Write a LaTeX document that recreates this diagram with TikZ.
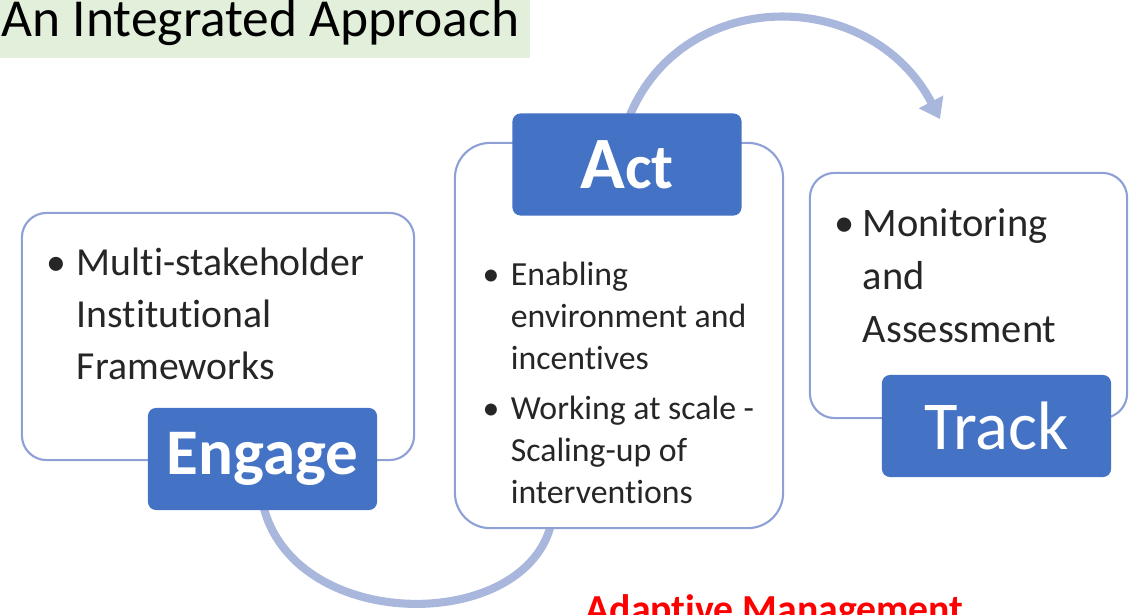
\documentclass[tikz,border=0pt]{standalone}
\usepackage{fontspec}
\setmainfont{Carlito}[Ligatures=NoCommon]
\usetikzlibrary{arrows.meta}

\definecolor{labelblue}{HTML}{4472C4}
\definecolor{rimblue}{HTML}{8EA0D6}
\definecolor{cycleblue}{HTML}{AAB7DD}
\definecolor{titlegreen}{HTML}{E2EFDA}
\definecolor{adaptred}{HTML}{FF0000}

\tikzset{
	stagebox/.style={draw=rimblue, line width=0.6pt, fill=white, inner sep=0pt},
	stagelabel/.style={fill=labelblue, text=white, rounded corners=2.3pt, inner sep=0pt,
		minimum width=2.29cm, minimum height=1.02cm},
	cycle/.style={draw=cycleblue, line width=2.3pt},
	bullets/.style={anchor=base west, inner sep=0pt, text=black!85},
}

\begin{document}
\begin{tikzpicture}[x=0.01cm, y=-0.01cm]
	\useasboundingbox (0,0) rectangle (1129,615);
	\clip (0,0) rectangle (1129,615);

	% title band
	\fill[titlegreen] (0,0) rectangle (530,58);
	\node[anchor=base west, inner sep=0pt, font=\fontsize{15.2}{18}\selectfont] (title) at (1,36) {An Integrated Approach};

	% cycle arrows behind the boxes
	\coordinate (actup) at (628,120);
	\coordinate (trackin) at (940,119);
	\coordinate (engdown) at (262,500);
	\coordinate (actdown) at (552,520);
	\draw[cycle, -{Triangle[length=5.5pt, width=7.5pt]}] (actup) .. controls (680,-15) and (870,-15) .. (trackin);
	\draw[cycle] (engdown) .. controls (288,635) and (530,635) .. (actdown);

	% Engage
	\node[stagebox, rounded corners=7pt, minimum width=3.92cm, minimum height=2.47cm] (engbox) at (218,336.5) {};
	\node[bullets, font=\fontsize{11.3}{14.8}\selectfont] (engtxt) at (46,275)
		{\begin{tabular}[t]{@{}p{8.6pt}@{}l@{}}
			\textbullet & Multi-stakeholder\\
			& Institutional\\
			& Frameworks
		\end{tabular}};
	\node[stagelabel, font=\fontsize{18.5}{22}\selectfont\bfseries] (engage) at (262.5,459) {Engage};

	% Act
	\node[stagebox, rounded corners=10pt, minimum width=3.28cm, minimum height=3.85cm] (actbox) at (619,335.5) {};
	\node[bullets, font=\fontsize{9.6}{12}\selectfont] (acttxt) at (482,285)
		{\begin{tabular}[t]{@{}p{8pt}@{}l@{}}
			\textbullet & Enabling\\
			& environment and\\
			& incentives\\[2.2pt]
			\textbullet & Working at scale -\\
			& Scaling-up of\\
			& interventions
		\end{tabular}};
	\node[stagelabel, font=\bfseries] (act) at (627,164.5) {{\fontsize{21}{24}\selectfont A}{\fontsize{18}{24}\selectfont ct}};

	% Track
	\node[stagebox, rounded corners=7pt, minimum width=3.17cm, minimum height=2.45cm] (trackbox) at (968.5,295.5) {};
	\node[bullets, font=\fontsize{11.5}{15}\selectfont] (tracktxt) at (834,237)
		{\begin{tabular}[t]{@{}p{8pt}@{}l@{}}
			\textbullet & Monitoring\\
			& and\\
			& Assessment
		\end{tabular}};
	\node[stagelabel, font=\fontsize{19.5}{23}\selectfont] (track) at (996.5,426) {Track};

	% caption, cut by the lower edge
	\node[anchor=base west, inner sep=0pt, text=adaptred, font=\fontsize{11.3}{14}\selectfont\bfseries] (adapt) at (585,623) {Adaptive Management};
\end{tikzpicture}
\end{document}
